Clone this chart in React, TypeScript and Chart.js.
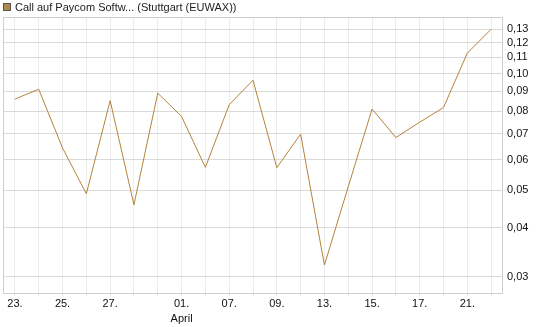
import React, { useEffect, useRef } from "react";
import { Chart, registerables } from "chart.js";

Chart.register(...registerables);

const seriesName = "Call auf Paycom Softw... (Stuttgart (EUWAX))";
const categories: (string | string[])[] = [
  "23.", "", "25.", "", "27.", "", "", ["01.", "April"], "", "07.", "",
  "09.", "", "13.", "", "15.", "", "17.", "", "21.", "",
];
const values = [
  0.0859, 0.0911, 0.0643, 0.049, 0.0851, 0.0459, 0.089, 0.0775, 0.0573,
  0.0831, 0.0961, 0.0572, 0.0698, 0.0321, 0.0511, 0.081, 0.0684, 0.0749,
  0.0817, 0.1128, 0.13,
];
const yTicks = [0.03, 0.04, 0.05, 0.06, 0.07, 0.08, 0.09, 0.1, 0.11, 0.12, 0.13];
const yMin = 0.0272;
const yMax = 0.1398;

const FONT = "'Liberation Sans', Arial, sans-serif";

export default function App() {
  const ref = useRef<HTMLCanvasElement | null>(null);
  useEffect(() => {
    document.body.style.margin = "0";
    const canvas = ref.current!;
    const framePlugin = {
      id: "frame",
      beforeDatasetsDraw(chart: any) {
        const { ctx, chartArea: a } = chart;
        ctx.save();
        ctx.strokeStyle = "#cfcfcf";
        ctx.lineWidth = 1;
        ctx.strokeRect(Math.round(a.left) + 0.5, Math.round(a.top) + 0.5, Math.round(a.right - a.left) - 1, Math.round(a.bottom - a.top));
        ctx.restore();
      },
      afterDraw(chart: any) {
        const { ctx } = chart;
        ctx.save();
        ctx.fillStyle = "#b08850";
        ctx.fillRect(3, 3, 8, 8);
        ctx.strokeStyle = "#555";
        ctx.lineWidth = 1;
        ctx.strokeRect(3.5, 3.5, 7, 7);
        ctx.fillStyle = "#222";
        ctx.font = `11px ${FONT}`;
        ctx.textBaseline = "middle";
        ctx.fillText(seriesName, 15, 7.5);
        ctx.restore();
      },
    };
    const chart = new Chart(canvas, {
      type: "line",
      data: {
        labels: categories,
        datasets: [
          {
            label: seriesName,
            data: values,
            borderColor: "#b5823c",
            borderWidth: 1,
            pointRadius: 0,
            tension: 0,
            fill: false,
          },
        ],
      },
      options: {
        animation: false,
        responsive: false,
        layout: { padding: { top: 17, left: 3, right: 0, bottom: 0 } },
        plugins: { legend: { display: false }, tooltip: { enabled: false } },
        scales: {
          x: {
            type: "category",
            offset: true,
            grid: { offset: false, color: "#ececec", drawTicks: true, tickLength: 3, tickColor: "#e0e0e0" },
            border: { display: false },
            ticks: {
              autoSkip: false,
              maxRotation: 0,
              padding: 1,
              color: "#111",
              font: { family: FONT, size: 11, lineHeight: 1.35 },
            },
            afterFit(scale: any) {
              scale.height = 34;
            },
          },
          y: {
            type: "logarithmic",
            position: "right",
            min: yMin,
            max: yMax,
            grid: { color: "#dadada", drawTicks: false },
            border: { display: false },
            afterBuildTicks(scale: any) {
              scale.ticks = yTicks.map((v) => ({ value: v }));
            },
            ticks: {
              padding: 4,
              color: "#111",
              font: { family: FONT, size: 11 },
              callback: (v: any) => Number(v).toFixed(2).replace(".", ","),
            },
            afterFit(scale: any) {
              scale.width = 42;
            },
          },
        },
      },
      plugins: [framePlugin],
    });
    return () => chart.destroy();
  }, []);
  return <canvas ref={ref} width={545} height={327} style={{ display: "block" }} />;
}
